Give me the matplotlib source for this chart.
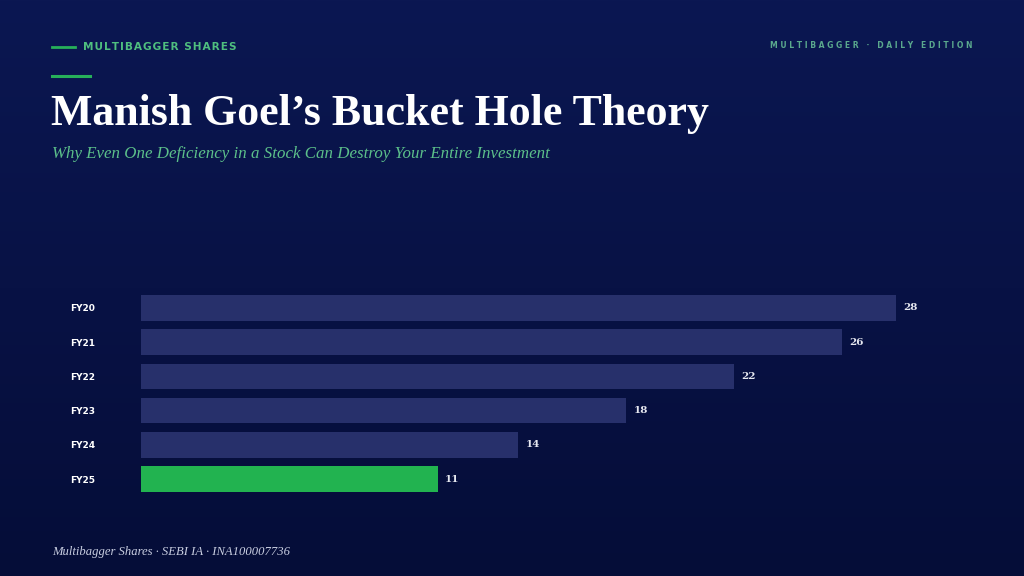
import matplotlib
matplotlib.use('Agg')
import matplotlib.pyplot as plt
import numpy as np
from matplotlib.colors import LinearSegmentedColormap

# data
years = ['FY20', 'FY21', 'FY22', 'FY23', 'FY24', 'FY25']
values = [28, 26, 22, 18, 14, 11]
highlight = 'FY25'

bar_color = '#27306b'
hi_color = '#22b350'
serif = ['Liberation Serif', 'DejaVu Serif']

fig = plt.figure(figsize=(10.24, 5.76), dpi=100)

# background gradient
bg = fig.add_axes([0, 0, 1, 1])
grad = np.linspace(0, 1, 256).reshape(-1, 1)
cmap = LinearSegmentedColormap.from_list('bg', ['#0b1752', '#050d38'])
bg.imshow(grad, aspect='auto', cmap=cmap, extent=[0, 1, 0, 1], origin='upper')
bg.set_xlim(0, 1)
bg.set_ylim(0, 1)
bg.axis('off')

# header
fig.add_artist(plt.Line2D([52/1024, 75/1024], [1-47/576, 1-47/576], color='#27b05a', lw=2))
fig.text(83/1024, 1-47/576, '\u200a'.join('MULTIBAGGER SHARES'), color='#4fbf7f', fontsize=7.6,
         fontweight='bold', va='center', ha='left', family='DejaVu Sans')
fig.text(973/1024, 1-46/576, 'M U L T I B A G G E R   ·   D A I L Y   E D I T I O N',
         color='#5aa88d', fontsize=5.5, fontweight='bold', va='center', ha='right')
fig.add_artist(plt.Line2D([52/1024, 90/1024], [1-76/576, 1-76/576], color='#27b05a', lw=2.2))

fig.text(51/1024, 1-125/576, 'Manish Goel\u2019s Bucket Hole Theory', color='white',
         fontsize=31.6, fontweight='bold', family=serif, va='baseline', ha='left')
fig.text(52/1024, 1-158/576, 'Why Even One Deficiency in a Stock Can Destroy Your Entire Investment',
         color='#5cc08a', fontsize=12.2, style='italic', family=serif,
         va='baseline', ha='left')

fig.text(52/1024, 1-555/576, 'Multibagger Shares · SEBI IA · INA100007736', color='#c8cde0',
         fontsize=9.1, style='italic', family=serif, va='baseline', ha='left')

# chart
ax = fig.add_axes([141/1024, 1-497/576, (30*26.96)/1024, 207/576])
ax.patch.set_alpha(0)
y = np.arange(len(years))
colors = [hi_color if yr == highlight else bar_color for yr in years]
ax.barh(y, values, height=0.75, color=colors)
ax.set_ylim(len(years) - 0.5 + 0.02, -0.5 - 0.02)
ax.set_xlim(0, 30)
for i, v in enumerate(values):
    ax.text(v + 0.28, i, str(v), color='#e6e8f0', fontsize=7.5, fontweight='bold',
            family='DejaVu Serif', va='center', ha='left')
ax.set_yticks(y)
ax.set_yticklabels(years, color='white', fontsize=6.5, fontweight='bold')
for lbl in ax.get_yticklabels():
    lbl.set_ha('left')
    lbl.set_va('center_baseline')
ax.tick_params(axis='y', length=0, pad=51)
ax.set_xticks([])
for s in ax.spines.values():
    s.set_visible(False)

fig.savefig('out.png', dpi=100)
